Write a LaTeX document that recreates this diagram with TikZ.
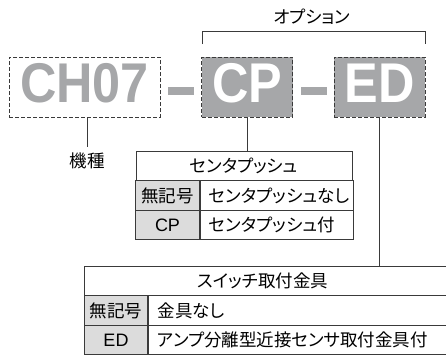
\documentclass[tikz,border=0pt]{standalone}
\usepackage{fontspec}
\setmainfont{Liberation Sans}
\newfontfamily\jpfont[RawFeature=+palt]{Noto Sans CJK JP}
\newfontfamily\codefont[FakeStretch=0.9]{Liberation Sans Bold}
\usetikzlibrary{positioning}
\usetikzlibrary{calc}
\definecolor{codegray}{HTML}{A6A7A9}
\definecolor{cellgray}{HTML}{DCDCDC}
\definecolor{rulegray}{HTML}{3A3A3A}

\begin{document}
\begin{tikzpicture}[x=1pt,y=-1pt,
	codeBox/.style={draw=rulegray, line width=0.8pt, dash pattern=on 4pt off 2pt, minimum height=60pt, inner sep=0pt, text depth=8pt},
	codeText/.style={font=\fontsize{56}{56}\codefont},
	jpText/.style={font=\fontsize{17.5}{17.5}\jpfont},
	cell/.style={draw=rulegray, line width=0.8pt, minimum height=29.5pt, inner sep=0pt, jpText},
	keyCell/.style={cell, fill=cellgray, minimum width=63.5pt, font=\fontsize{18}{18}\selectfont},
	valCell/.style={cell, anchor=west, inner xsep=9pt, text width=#1, align=left},
	link/.style={draw=rulegray, line width=0.8pt}]
	\useasboundingbox (0,0) rectangle (446,356);
	% model code
	\node[codeBox, minimum width=151pt, codeText, text=codegray] (ch07) at (84.5,87) {CH07};
	\node[codeBox, minimum width=91pt, fill=codegray, codeText, text=white] (cp) at (247.3,87) {CP};
	\node[codeBox, minimum width=91pt, fill=codegray, codeText, text=white] (ed) at (379.6,87) {ED};
	\fill[codegray] (168,87) rectangle (194,95);
	\fill[codegray] (301,87) rectangle (327,95);
	% option bracket
	\coordinate (optL) at (202,44);
	\coordinate (optR) at (425,44);
	\draw[link] (optL) -- ++(0,-13) -| (optR);
	\node[jpText] (opt) at (312,17) {オプション};
	% model
	\node[jpText] (kishu) at (87,161) {機種};
	\draw[link] (ch07.south -| kishu) -- ++(0,30);
	% center push table
	\node[cell, minimum width=216pt] (cpT) at (244,166) {センタプッシュ};
	\node[keyCell, jpText] (cpK1) at (167.5,195.5) {無記号};
	\node[valCell=135pt] (cpV1) at (cpK1.east) {センタプッシュなし};
	\node[keyCell] (cpK2) at (167.5,225) {CP};
	\node[valCell=135pt] (cpV2) at (cpK2.east) {センタプッシュ付};
	\draw[link] (cp.south) -- (cp.south |- cpT.north);
	% switch bracket table
	\node[cell, minimum width=380pt] (edT) at (274,281) {\hspace{-22pt}スイッチ取付金具};
	\node[keyCell, jpText] (edK1) at (116,310.5) {無記号};
	\node[valCell=298.5pt] (edV1) at (edK1.east) {金具なし};
	\node[keyCell] (edK2) at (116,340) {ED};
	\node[valCell=298.5pt] (edV2) at (edK2.east) {アンプ分離型近接センサ取付金具付};
	\draw[link] (ed.south) -- (ed.south |- edT.north);
\end{tikzpicture}
\end{document}
